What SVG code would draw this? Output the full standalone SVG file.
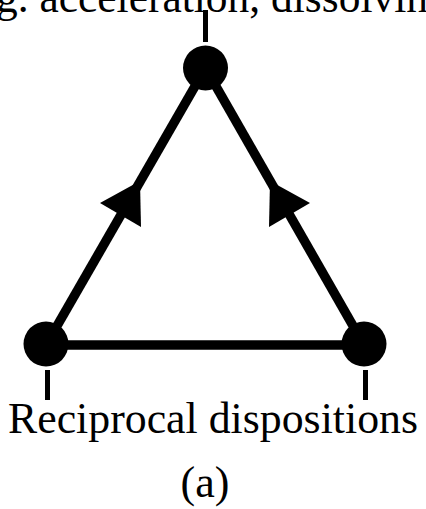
<svg xmlns="http://www.w3.org/2000/svg" width="426" height="509" viewBox="0 0 426 509">
<style>
.t{font-family:"Liberation Serif","Times New Roman",serif;font-size:44px;fill:#000}
.e{stroke:#000;stroke-width:9.5;fill:none}
.n{fill:#000}
.s{stroke:#000;stroke-width:5}
</style>
<text class="t" x="-4" y="12" textLength="432" lengthAdjust="spacingAndGlyphs">g. acceleration, dissolvin</text>
<g id="connectors">
<line class="e" x1="46" y1="345" x2="364" y2="345"/>
<line class="e" x1="46" y1="345" x2="205.5" y2="68"/>
<line class="e" x1="364" y1="345" x2="205.5" y2="68"/>
<path class="n" d="M140,181 L100,203 L141,227 z"/>
<path class="n" d="M270,181 L310,203 L269,227 z"/>
<line class="s" x1="205.5" y1="10" x2="205.5" y2="42"/>
<line class="s" x1="47.5" y1="370" x2="47.5" y2="400"/>
<line class="s" x1="365.5" y1="370" x2="365.5" y2="400"/>
</g>
<g id="top"><circle class="n" cx="205.5" cy="68" r="22.5"/></g>
<g id="left"><circle class="n" cx="46" cy="344" r="22.5"/></g>
<g id="right"><circle class="n" cx="364" cy="344" r="22.5"/></g>
<text class="t" x="8" y="433" textLength="410" lengthAdjust="spacingAndGlyphs">Reciprocal dispositions</text>
<text class="t" x="205" y="497" text-anchor="middle">(a)</text>
</svg>
